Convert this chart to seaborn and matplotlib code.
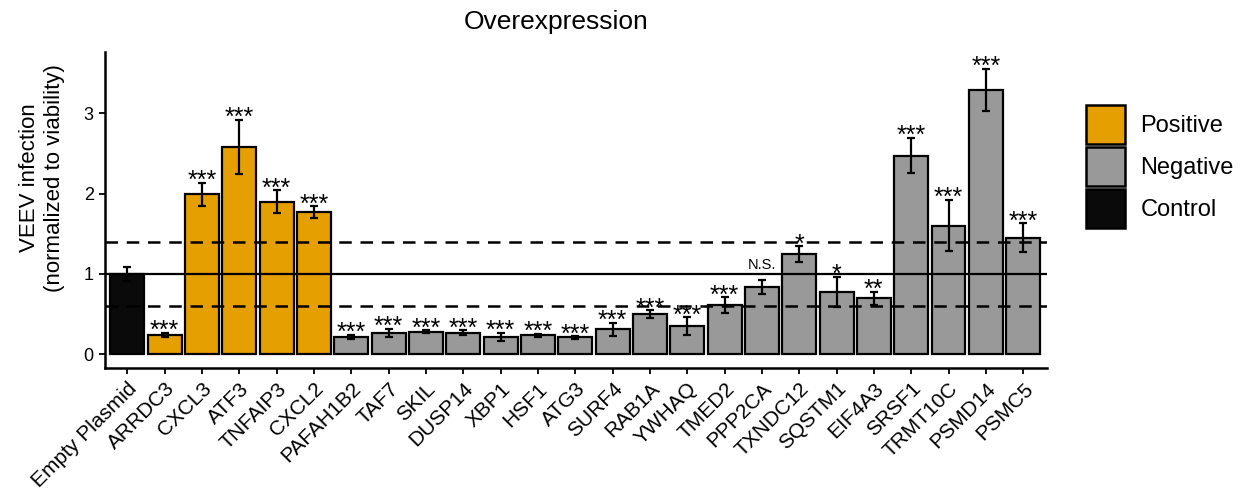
import matplotlib.pyplot as plt
import pandas as pd
import seaborn as sns
from matplotlib.patches import Patch

# %%
# data

genes = [
    "Empty Plasmid", "ARRDC3", "CXCL3", "ATF3", "TNFAIP3", "CXCL2",
    "PAFAH1B2", "TAF7", "SKIL", "DUSP14", "XBP1", "HSF1", "ATG3",
    "SURF4", "RAB1A", "YWHAQ", "TMED2", "PPP2CA", "TXNDC12", "SQSTM1",
    "EIF4A3", "SRSF1", "TRMT10C", "PSMD14", "PSMC5",
]
groups = ["Control"] + ["Positive"] * 5 + ["Negative"] * 19
values = [
    1.00, 0.24, 1.99, 2.58, 1.90, 1.77,
    0.215, 0.265, 0.28, 0.27, 0.22, 0.235, 0.21,
    0.31, 0.50, 0.35, 0.61, 0.84, 1.245, 0.775,
    0.70, 2.47, 1.60, 3.29, 1.45,
]
errors = [
    0.09, 0.03, 0.14, 0.34, 0.14, 0.07,
    0.03, 0.05, 0.02, 0.03, 0.05, 0.02, 0.015,
    0.08, 0.05, 0.11, 0.10, 0.09, 0.10, 0.19,
    0.08, 0.22, 0.32, 0.26, 0.18,
]
signif = [
    "", "***", "***", "***", "***", "***",
    "***", "***", "***", "***", "***", "***", "***",
    "***", "***", "***", "***", "N.S.", "*", "*",
    "**", "***", "***", "***", "***",
]
group_order = ["Positive", "Negative", "Control"]
palette = {"Positive": "#E69F00", "Negative": "#999999", "Control": "#0A0A0A"}

df = pd.DataFrame({"gene": genes, "value": values, "group": groups})

# %%
sns.set_style("ticks", {
    "axes.edgecolor": "black", "text.color": "black",
    "axes.labelcolor": "black", "xtick.color": "black", "ytick.color": "black",
})
plt.rcParams["font.family"] = ["Liberation Sans", "DejaVu Sans"]

fig = plt.figure(figsize=(12.45, 4.93), dpi=100)
ax = fig.add_axes([0.0843, 0.2535, 0.7567, 0.641])

sns.barplot(
    data=df, x="gene", y="value", hue="group", order=genes,
    palette=palette, saturation=1, dodge=False, width=0.91,
    edgecolor="black", linewidth=1.6, errorbar=None, legend=False, ax=ax,
)

ax.errorbar(
    range(len(genes)), values, yerr=errors, fmt="none",
    ecolor="black", elinewidth=1.6, capsize=2.8, capthick=1.6, zorder=4,
)

ax.axhline(1.0, color="black", lw=1.6, zorder=3)
for yy in [0.6, 1.4]:
    ax.axhline(yy, color="black", lw=1.8, ls=(0, (5, 3.5)), zorder=3)

# significance marks above the error bars
for i, lab in enumerate(signif):
    if not lab:
        continue
    top = values[i] + errors[i]
    if lab == "N.S.":
        ax.annotate(lab, (i, top), xytext=(0, 7.5), textcoords="offset points",
                    ha="center", va="baseline", fontsize=10.5, zorder=5)
    else:
        ax.annotate(lab, (i, top), xytext=(0, -3.8), textcoords="offset points",
                    ha="center", va="baseline", fontsize=18, zorder=5)

ax.set_xlim(-0.6, 24.64)
ax.set_ylim(-0.17, 3.76)
ax.set_yticks([0, 1, 2, 3])
ax.set_xlabel("")
ax.set_ylabel("")
ax.tick_params(axis="y", labelsize=13, length=4.5, width=1.3, pad=3.5)
ax.tick_params(axis="x", labelsize=15, length=4.5, width=1.3, pad=3.5)
plt.setp(ax.get_xticklabels(), rotation=45, ha="right", va="top",
         rotation_mode="anchor")
for s in ["left", "bottom"]:
    ax.spines[s].set_linewidth(1.8)
sns.despine(ax=ax)

fig.text(556 / 1245, 1 - 22 / 493, "Overexpression", ha="center", va="center",
         fontsize=19)
fig.text(42 / 1245, 1 - 178 / 493, "VEEV infection\n(normalized to viability)",
         ha="center", va="center", rotation=90, fontsize=16,
         multialignment="center")

handles = [Patch(facecolor=palette[g], edgecolor="black", linewidth=1.8)
           for g in group_order]
fig.legend(
    handles, group_order, loc="upper left",
    bbox_to_anchor=(1086 / 1245, 1 - 105 / 493), frameon=False,
    fontsize=17, handlelength=1.65, handleheight=2.17, labelspacing=0.13,
    handletextpad=0.65, borderpad=0, borderaxespad=0,
)

fig.savefig("out.png", dpi=100)
